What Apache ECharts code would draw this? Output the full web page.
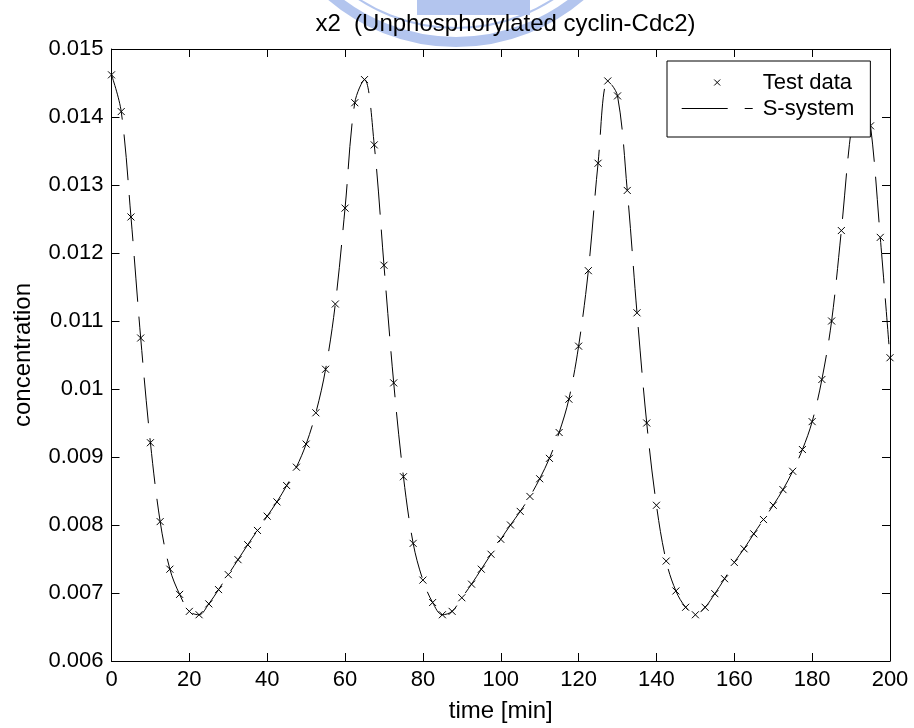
<!DOCTYPE html>
<html><head><meta charset="utf-8">
<script src="https://cdn.jsdelivr.net/npm/echarts@6/dist/echarts.min.js"></script>
<style>html,body{margin:0;padding:0;background:#fff}#c{width:914px;height:728px}</style>
</head><body><div id="c"></div>
<script>
const titleText = 'x2  (Unphosphorylated cyclin-Cdc2)';
const xLabel = 'time [min]';
const yLabel = 'concentration';
const seriesNames = ['Test data', 'S-system'];
const xTicks = [0, 20, 40, 60, 80, 100, 120, 140, 160, 180, 200];
const yTicks = [0.006, 0.007, 0.008, 0.009, 0.01, 0.011, 0.012, 0.013, 0.014, 0.015];
const times = [0, 2.5, 5, 7.5, 10, 12.5, 15, 17.5, 20, 22.5, 25, 27.5, 30, 32.5, 35, 37.5, 40, 42.5, 45, 47.5,
  50, 52.5, 55, 57.5, 60, 62.5, 65, 67.5, 70, 72.5, 75, 77.5, 80, 82.5, 85, 87.5, 90, 92.5, 95, 97.5,
  100, 102.5, 105, 107.5, 110, 112.5, 115, 117.5, 120, 122.5, 125, 127.5, 130, 132.5, 135, 137.5, 140, 142.5, 145, 147.5,
  150, 152.5, 155, 157.5, 160, 162.5, 165, 167.5, 170, 172.5, 175, 177.5, 180, 182.5, 185, 187.5, 190, 192.5, 195, 197.5, 200];
const testData = [0.01462, 0.01408, 0.01253, 0.01075, 0.00921, 0.00805, 0.00735, 0.00698, 0.00673, 0.00668,
  0.00684, 0.00705, 0.00727, 0.00749, 0.00771, 0.00792, 0.00813, 0.00834, 0.00858, 0.00885,
  0.00919, 0.00965, 0.01029, 0.01125, 0.01266, 0.01421, 0.01455, 0.01359, 0.01182, 0.01009,
  0.00871, 0.00773, 0.00719, 0.00686, 0.00668, 0.00673, 0.00693, 0.00713, 0.00735, 0.00757,
  0.00779, 0.00800, 0.00820, 0.00842, 0.00868, 0.00898, 0.00936, 0.00985, 0.01063, 0.01174,
  0.01332, 0.01453, 0.01431, 0.01292, 0.01112, 0.00950, 0.00829, 0.00747, 0.00703, 0.00679,
  0.00668, 0.00679, 0.00699, 0.00721, 0.00745, 0.00765, 0.00787, 0.00808, 0.00829, 0.00852,
  0.00879, 0.00911, 0.00952, 0.01014, 0.01100, 0.01233, 0.01380, 0.01458, 0.01387, 0.01223, 0.01046];
const sSystem = [0.01462, 0.01408, 0.01253, 0.01075, 0.00921, 0.00805, 0.00735, 0.00698, 0.00673, 0.00668,
  0.00684, 0.00705, 0.00727, 0.00749, 0.00771, 0.00792, 0.00813, 0.00834, 0.00858, 0.00885,
  0.00919, 0.00965, 0.01029, 0.01125, 0.01266, 0.01421, 0.01455, 0.01359, 0.01182, 0.01009,
  0.00871, 0.00773, 0.00719, 0.00686, 0.00668, 0.00673, 0.00693, 0.00713, 0.00735, 0.00757,
  0.00779, 0.00800, 0.00820, 0.00842, 0.00868, 0.00898, 0.00936, 0.00985, 0.01063, 0.01174,
  0.01332, 0.01453, 0.01431, 0.01292, 0.01112, 0.00950, 0.00829, 0.00747, 0.00703, 0.00679,
  0.00668, 0.00679, 0.00699, 0.00721, 0.00745, 0.00765, 0.00787, 0.00808, 0.00829, 0.00852,
  0.00879, 0.00911, 0.00952, 0.01014, 0.01100, 0.01233, 0.01380, 0.01458, 0.01387, 0.01223, 0.01046];

const FONT = "'Liberation Sans', Arial, Helvetica, sans-serif";
const X_ICON = 'path://M0,0L10,10M10,0L0,10';
const LINE_ICON = 'path://M0,0h46v1h-46zM63,0h8v1h-8z';
const LOGO = '#b3c5ee';

const chart = echarts.init(document.getElementById('c'), null, {renderer: 'canvas'});
const axisCommon = {
  axisLine: {show: true, onZero: false, lineStyle: {color: '#000', width: 1}},
  axisTick: {show: true, inside: true, length: 8, lineStyle: {color: '#000', width: 1}},
  splitLine: {show: false}
};
const fmtY = v => String(+(+v).toFixed(3));
const option = {
  animation: false,
  backgroundColor: '#fff',
  title: {
    text: titleText, left: 505.5, top: 12, textAlign: 'center', padding: 0,
    textStyle: {fontFamily: FONT, fontSize: 24, fontWeight: 'normal', color: '#000'}
  },
  graphic: [
    {type: 'group', z: -10, silent: true, children: [
      {type: 'circle', shape: {cx: 456, cy: -150, r: 192}, style: {fill: 'none', stroke: LOGO, lineWidth: 10}},
      {type: 'circle', shape: {cx: 456, cy: -150, r: 178}, style: {fill: 'none', stroke: LOGO, lineWidth: 2}},
      {type: 'rect', shape: {x: 417, y: 0, width: 113, height: 15}, style: {fill: LOGO}}
    ]}
  ],
  grid: {left: 111.5, top: 49, right: 24, bottom: 66.3, containLabel: false},
  legend: {
    orient: 'vertical', left: 667, top: 61,
    padding: [10.5, 16, 17.5, 14.7], itemGap: 4,
    itemWidth: 71, itemHeight: 6,
    backgroundColor: '#fff', borderColor: '#000', borderWidth: 1, borderRadius: 0,
    textStyle: {fontFamily: FONT, fontSize: 22, color: '#000', lineHeight: 22, padding: [0, 0, 0, 5]},
    data: [
      {name: seriesNames[0], icon: X_ICON, itemStyle: {color: 'rgba(0,0,0,0)', borderColor: '#000', borderWidth: 1}},
      {name: seriesNames[1], icon: LINE_ICON, itemStyle: {color: '#000', borderWidth: 0}}
    ]
  },
  xAxis: [
    Object.assign({type: 'value', position: 'bottom', min: xTicks[0], max: xTicks[xTicks.length - 1], interval: 20,
      name: xLabel, nameLocation: 'middle', nameGap: 38,
      nameTextStyle: {fontFamily: FONT, fontSize: 24, color: '#000'},
      axisLabel: {show: true, margin: 8, fontFamily: FONT, fontSize: 22, color: '#000'}}, axisCommon),
    Object.assign({type: 'value', position: 'top', min: xTicks[0], max: xTicks[xTicks.length - 1], interval: 20,
      axisLabel: {show: false}}, axisCommon)
  ],
  yAxis: [
    Object.assign({type: 'value', position: 'left', min: yTicks[0], max: yTicks[yTicks.length - 1], interval: 0.001,
      name: yLabel, nameLocation: 'middle', nameGap: 76,
      nameTextStyle: {fontFamily: FONT, fontSize: 24, color: '#000'},
      axisLabel: {show: true, margin: 8, fontFamily: FONT, fontSize: 22, color: '#000', formatter: fmtY}}, axisCommon),
    Object.assign({type: 'value', position: 'right', min: yTicks[0], max: yTicks[yTicks.length - 1], interval: 0.001,
      axisLabel: {show: false}}, axisCommon)
  ],
  series: [
    {
      name: seriesNames[1], type: 'line', xAxisIndex: 0, yAxisIndex: 0,
      data: times.map((t, i) => [t, sSystem[i]]),
      smooth: 0.35, symbol: 'none', z: 2,
      lineStyle: {color: '#000', width: 1, type: [46, 15]},
      itemStyle: {color: '#000'}
    },
    {
      name: seriesNames[0], type: 'scatter', xAxisIndex: 0, yAxisIndex: 0,
      data: times.map((t, i) => [t, testData[i]]),
      symbol: X_ICON, symbolSize: 7, z: 3,
      itemStyle: {color: 'rgba(0,0,0,0)', borderColor: '#000', borderWidth: 1, opacity: 1}
    }
  ]
};
chart.setOption(option);
</script>
</body></html>
